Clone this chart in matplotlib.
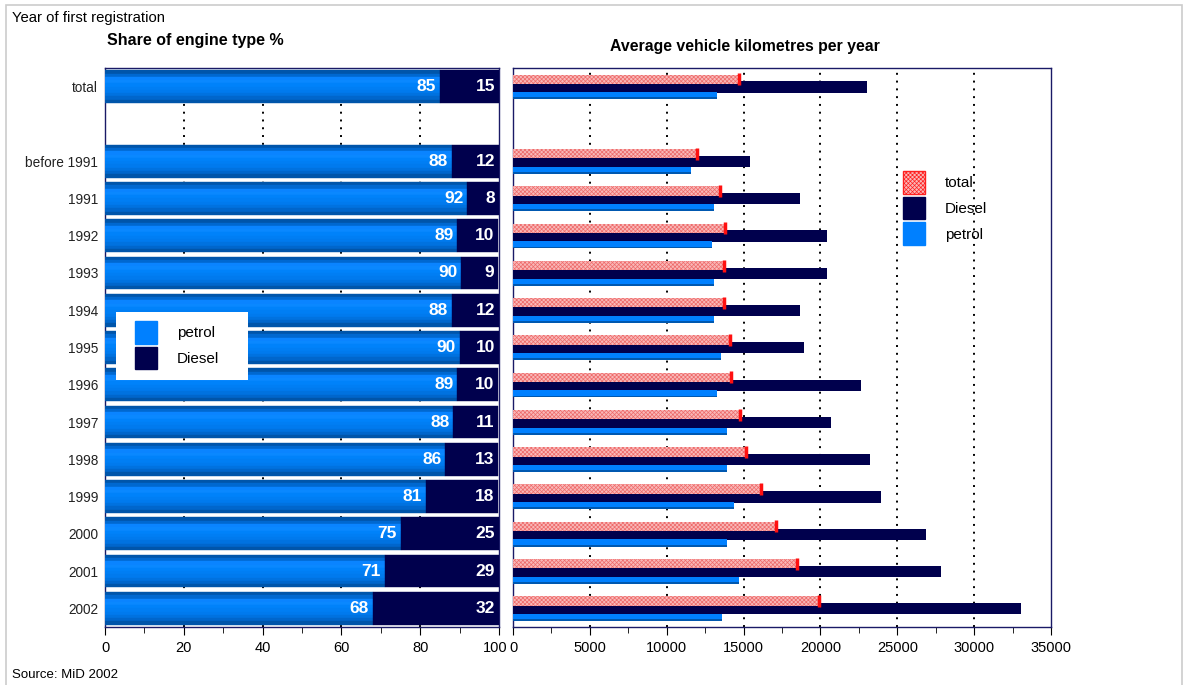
import matplotlib
matplotlib.use('Agg')
import matplotlib.pyplot as plt
import numpy as np
from matplotlib.patches import Patch, Rectangle
from matplotlib.ticker import MultipleLocator, FuncFormatter
from matplotlib.transforms import ScaledTranslation

plt.rcParams['font.family'] = ['Liberation Sans', 'DejaVu Sans']
plt.rcParams['hatch.linewidth'] = 0.5

# ---------------- data ----------------
categories = ['total', '', 'before 1991', '1991', '1992', '1993', '1994', '1995',
              '1996', '1997', '1998', '1999', '2000', '2001', '2002']
row_pos = [0, 2, 3, 4, 5, 6, 7, 8, 9, 10, 11, 12, 13, 14]   # rows with data

petrol_share = [85.0, 88.0, 92.0, 89.4, 90.4, 88.0, 90.0, 89.4, 88.4, 86.4, 81.4, 75.0, 71.0, 68.0]
diesel_share = [15.0, 12.0, 8.0, 10.4, 9.4, 12.0, 10.0, 10.4, 11.4, 13.4, 18.4, 25.0, 29.0, 32.0]

km_total = [14700, 12000, 13450, 13780, 13700, 13700, 14100, 14150, 14750, 15150, 16150, 17100, 18500, 19900]
km_diesel = [23050, 15450, 18650, 20400, 20400, 18700, 18900, 22650, 20700, 23250, 23950, 26850, 27850, 33050]
km_petrol = [13300, 11550, 13050, 12950, 13050, 13100, 13550, 13250, 13900, 13900, 14400, 13950, 14700, 13600]

PETROL = '#0080ff'
DIESEL = '#00004d'
SPINE = '#1a1a66'
PINK = '#f9b8b8'
HATCH_C = '#ee6a6a'

fig = plt.figure(figsize=(11.88, 6.85), dpi=100)
W, H = 1188, 685

def fx(px):
    return px / W

def fy(py):
    return 1 - py / H

# outer light frame
fig.add_artist(Rectangle((fx(6), fy(700)), fx(1182) - fx(6), fy(5) - fy(700),
                         transform=fig.transFigure, fill=False, edgecolor='#cccccc', lw=1.2))

# ---------------- left chart ----------------
axL = fig.add_axes([fx(105), fy(627), fx(499) - fx(105), fy(68) - fy(627)])
y = np.array(row_pos, dtype=float)
bh = 0.88
grad = ['#0055aa', '#0068d0', '#0a84ff', '#0a88ff', '#0082fa', '#007ef4',
        '#007aee', '#0072e0', '#0066cc', '#0055aa']
n = len(grad)
for i, c in enumerate(grad):
    off = -bh / 2 + (i + 0.5) * bh / n
    axL.barh(y + off, petrol_share, height=bh / n, left=0, color=c,
             edgecolor=c, lw=0.3, zorder=3)
axL.barh(y, diesel_share, height=bh, left=petrol_share, color=DIESEL,
         edgecolor=DIESEL, lw=0.3, zorder=3)

for yy, p, d in zip(y, petrol_share, diesel_share):
    axL.text(p - 1.0, yy, f'{p:.0f}', color='white', fontsize=12.5,
             fontweight='bold', ha='right', va='center', zorder=5)
    axL.text(p + d - 1.0, yy, f'{d:.0f}', color='white', fontsize=12.5,
             fontweight='bold', ha='right', va='center', zorder=5)

axL.set_xlim(0, 100)
axL.set_ylim(14.5, -0.5)
axL.set_yticks(range(len(categories)))
axL.set_yticklabels(categories, fontsize=9.8, color='#222222')
axL.tick_params(axis='y', length=0, pad=5)
axL.xaxis.set_major_locator(MultipleLocator(20))
axL.xaxis.set_minor_locator(MultipleLocator(10))
# the "100" label is drawn separately (shifted left a little, as in the original)
axL.xaxis.set_major_formatter(FuncFormatter(lambda v, pos: '' if v >= 100 else f'{v:.0f}'))
axL.tick_params(axis='x', which='major', length=6, direction='out', labelsize=10.5, pad=4)
axL.tick_params(axis='x', which='minor', length=4, direction='out')
axL.text(100, 0, '100', fontsize=10.5, ha='center', va='top',
         transform=axL.get_xaxis_transform() +
         ScaledTranslation(-4 / 100, -13.5 / 100, fig.dpi_scale_trans))
for xv in [20, 40, 60, 80]:
    axL.axvline(xv, color='black', lw=1.4, ls=(0, (1, 3)), zorder=1)
for s in axL.spines.values():
    s.set_color(SPINE)
    s.set_linewidth(1.0)

# left legend: white box + frameless legend
fig.add_artist(Rectangle((fx(116), fy(380)), fx(248) - fx(116), fy(312) - fy(380),
                         transform=fig.transFigure, facecolor='white', edgecolor='none',
                         zorder=5))
leg1 = fig.legend(handles=[Patch(facecolor=PETROL, edgecolor=PETROL),
                           Patch(facecolor=DIESEL, edgecolor=DIESEL)],
                  labels=['petrol', 'Diesel'], loc='upper left',
                  bbox_to_anchor=(fx(135), fy(321)), bbox_transform=fig.transFigure,
                  frameon=False, fontsize=11, handlelength=1.45, handleheight=1.9,
                  labelspacing=0.2, borderpad=0, handletextpad=1.3, borderaxespad=0)
leg1.set_zorder(6)

# ---------------- right chart ----------------
axR = fig.add_axes([fx(513), fy(627), fx(1051) - fx(513), fy(68) - fy(627)])
# Diesel (middle)
axR.barh(y + 0.01, km_diesel, height=0.30, color=DIESEL, lw=0, zorder=3)
# total (top, hatched)
axR.barh(y - 0.20, km_total, height=0.25, color=PINK, edgecolor=HATCH_C,
         hatch='xxxxxxxx', lw=0, zorder=4)
axR.plot(km_total, y - 0.20, ls='none', marker='|', ms=9, mew=2.5, color='#ff1010', zorder=5)
# petrol (bottom)
axR.barh(y + 0.245, km_petrol, height=0.19, color=PETROL, lw=0, zorder=3)
axR.barh(y + 0.315, km_petrol, height=0.05, color='#0058b0', lw=0, zorder=3)

axR.set_xlim(0, 35000)
axR.set_ylim(14.5, -0.5)
axR.set_yticks([])
axR.xaxis.set_major_locator(MultipleLocator(5000))
axR.xaxis.set_minor_locator(MultipleLocator(2500))
axR.tick_params(axis='x', which='major', length=6, direction='out', labelsize=10.5, pad=4)
axR.tick_params(axis='x', which='minor', length=4, direction='out')
for xv in [5000, 10000, 15000, 20000, 25000, 30000]:
    axR.axvline(xv, color='black', lw=1.4, ls=(0, (1, 3)), zorder=1)
for s in axR.spines.values():
    s.set_color(SPINE)
    s.set_linewidth(1.0)

fig.legend(handles=[Patch(facecolor=PINK, edgecolor='#ff2020', hatch='xxxxxxxx', lw=1),
                    Patch(facecolor=DIESEL, edgecolor=DIESEL),
                    Patch(facecolor=PETROL, edgecolor=PETROL)],
           labels=['total', 'Diesel', 'petrol'], loc='upper left',
           bbox_to_anchor=(fx(903), fy(171)), bbox_transform=fig.transFigure,
           frameon=False, fontsize=11, handlelength=1.45, handleheight=1.9,
           labelspacing=0.2, handletextpad=1.3, borderpad=0, borderaxespad=0)

# ---------------- texts ----------------
fig.text(fx(12), fy(18), 'Year of first registration', fontsize=10.7, ha='left', va='center')
fig.text(fx(107), fy(40), 'Share of engine type %', fontsize=11.5, fontweight='bold',
         ha='left', va='center')
fig.text(fx(745), fy(46), 'Average vehicle kilometres per year', fontsize=11.4,
         fontweight='bold', ha='center', va='center')
fig.text(fx(12), fy(675), 'Source: MiD 2002', fontsize=9.5, ha='left', va='center')

fig.savefig('out.png', dpi=100)
